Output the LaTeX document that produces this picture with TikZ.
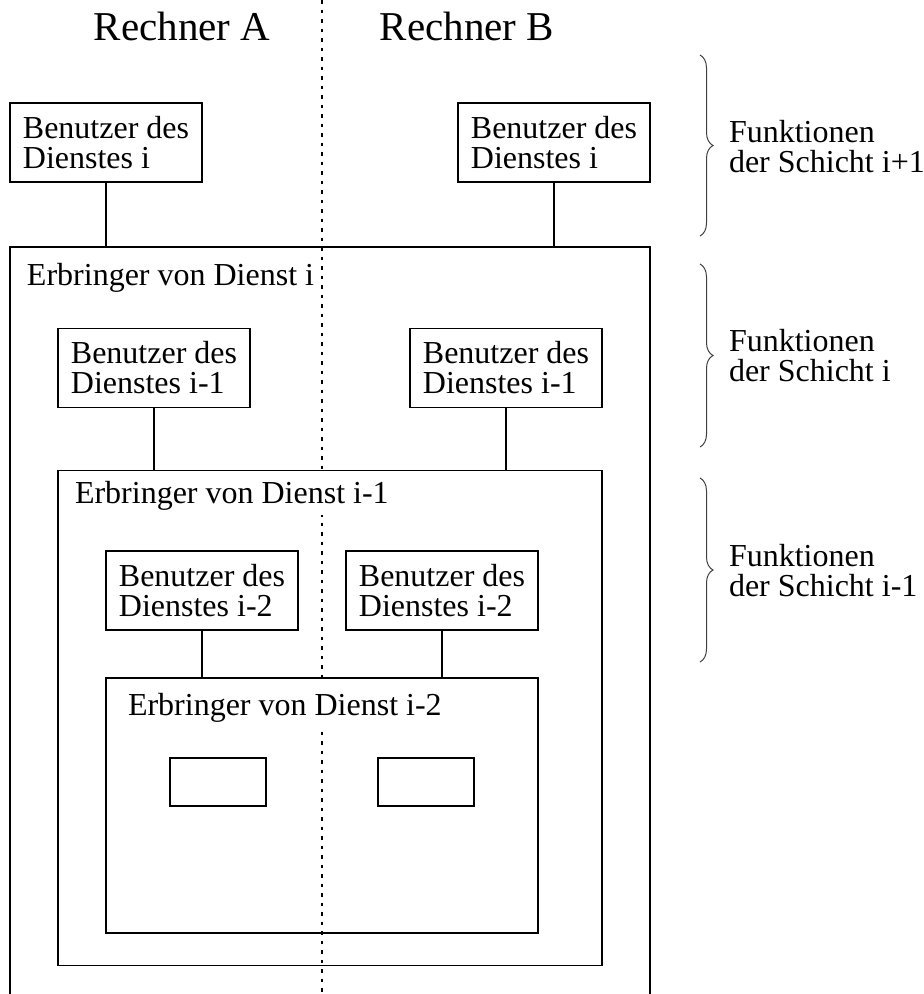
\documentclass[tikz,border=0pt]{standalone}
\usepackage{fontspec}
\setmainfont{Liberation Serif}
\usetikzlibrary{decorations.pathreplacing}
\begin{document}
\begin{tikzpicture}[x=1pt,y=-1pt,
  every node/.style={inner sep=0pt, outer sep=0pt},
  txt/.style={font=\fontsize{32}{30}\selectfont},
  userbox/.style={txt, draw, line width=1.6pt, align=left,
    minimum width=192pt, minimum height=79pt},
  frame/.style={draw, line width=1.6pt},
  label/.style={txt, anchor=base west, fill=white,
    text height=34pt, text depth=12pt},
  link/.style={line width=1.5pt},
  sep/.style={line width=1.3pt, dash pattern=on 3.5pt off 6pt},
  layerbrace/.style={decorate, decoration={brace, amplitude=13pt},
    line width=1pt, draw=black!75},
  head/.style={font=\fontsize{41}{41}\selectfont, anchor=base}
]
\clip (0,0) rectangle (924,994);

% column headings and the separating line
\node[head] (ha) at (182,40) {Rechner A};
\node[head] (hb) at (467,40) {Rechner B};
\coordinate (septop) at (322,0);
\coordinate (sepbot) at (322,994);
\draw[sep] (septop) -- (sepbot);

% provider labels (white ground hides the separating line behind them)
\node[label] (louter) at (27,285) {Erbringer von Dienst i};
\node[label] (lmid) at (75,503) {Erbringer von Dienst i-1};
\node[label] (linner) at (128,715) {Erbringer von Dienst i-2};

% layer i+1: users of service i
\node[userbox] (uA) at (106,142.5) {Benutzer des\\Dienstes i};
\node[userbox] (uB) at (554,142.5) {Benutzer des\\Dienstes i};

% provider of service i (open at the bottom)
\node[frame, minimum width=640pt, minimum height=780pt] (outer) at (330,637) {};
\draw[link] (uA.south) -- (uA.south |- outer.north);
\draw[link] (uB.south) -- (uB.south |- outer.north);

% layer i: users of service i-1
\node[userbox] (vA) at (154,368) {Benutzer des\\Dienstes i-1};
\node[userbox] (vB) at (506,368) {Benutzer des\\Dienstes i-1};

% provider of service i-1
\node[frame, minimum width=544pt, minimum height=495pt] (mid) at (330,718) {};
\draw[link] (vA.south) -- (vA.south |- mid.north);
\draw[link] (vB.south) -- (vB.south |- mid.north);

% layer i-1: users of service i-2
\node[userbox] (wA) at (202,590.5) {Benutzer des\\Dienstes i-2};
\node[userbox] (wB) at (442,590.5) {Benutzer des\\Dienstes i-2};

% provider of service i-2
\node[frame, minimum width=432pt, minimum height=255pt] (inner) at (322,805.5) {};
\draw[link] (wA.south) -- (wA.south |- inner.north);
\draw[link] (wB.south) -- (wB.south |- inner.north);

% the two entities inside the lowest provider
\node[frame, minimum width=96pt, minimum height=48pt] (eA) at (218,782) {};
\node[frame, minimum width=96pt, minimum height=48pt] (eB) at (426,782) {};

% braces marking the layers
\draw[layerbrace] (700,55) -- (700,236);
\draw[layerbrace] (700,264) -- (700,447);
\draw[layerbrace] (700,478) -- (700,662);
\node[txt, align=left, anchor=west] (f1) at (729,146.5) {Funktionen\\der Schicht i+1};
\node[txt, align=left, anchor=west] (f2) at (729,356) {Funktionen\\der Schicht i};
\node[txt, align=left, anchor=west] (f3) at (729,571) {Funktionen\\der Schicht i-1};
\end{tikzpicture}
\end{document}
